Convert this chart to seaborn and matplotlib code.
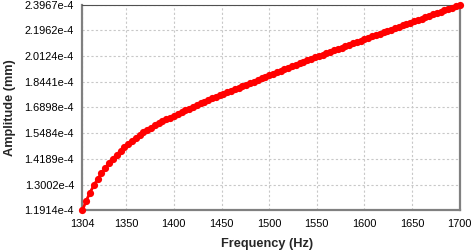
import matplotlib
matplotlib.use("Agg")
import matplotlib.pyplot as plt
import seaborn as sns
import pandas as pd

# Data (frequency in Hz, amplitude in mm)
frequency = list(range(1304, 1701, 4))
amplitude = [
    1.1914e-4, 1.2306e-4, 1.2654e-4, 1.2968e-4, 1.3254e-4, 1.3511e-4, 1.3761e-4, 1.3992e-4,
    1.4201e-4, 1.4389e-4, 1.4578e-4, 1.4758e-4, 1.4926e-4, 1.5084e-4, 1.5243e-4, 1.5390e-4,
    1.5525e-4, 1.5647e-4, 1.5771e-4, 1.5895e-4, 1.6007e-4, 1.6119e-4, 1.6232e-4, 1.6332e-4,
    1.6432e-4, 1.6533e-4, 1.6634e-4, 1.6736e-4, 1.6839e-4, 1.6942e-4, 1.7031e-4, 1.7136e-4,
    1.7226e-4, 1.7316e-4, 1.7423e-4, 1.7514e-4, 1.7606e-4, 1.7699e-4, 1.7792e-4, 1.7885e-4,
    1.7980e-4, 1.8074e-4, 1.8169e-4, 1.8264e-4, 1.8360e-4, 1.8457e-4, 1.8554e-4, 1.8652e-4,
    1.8750e-4, 1.8848e-4, 1.8947e-4, 1.9047e-4, 1.9147e-4, 1.9248e-4, 1.9332e-4, 1.9433e-4,
    1.9535e-4, 1.9638e-4, 1.9724e-4, 1.9828e-4, 1.9932e-4, 2.0037e-4, 2.0125e-4, 2.0230e-4,
    2.0319e-4, 2.0426e-4, 2.0515e-4, 2.0623e-4, 2.0713e-4, 2.0822e-4, 2.0913e-4, 2.1023e-4,
    2.1115e-4, 2.1207e-4, 2.1319e-4, 2.1412e-4, 2.1525e-4, 2.1619e-4, 2.1714e-4, 2.1828e-4,
    2.1923e-4, 2.2019e-4, 2.2135e-4, 2.2232e-4, 2.2349e-4, 2.2447e-4, 2.2545e-4, 2.2664e-4,
    2.2763e-4, 2.2863e-4, 2.2983e-4, 2.3083e-4, 2.3184e-4, 2.3306e-4, 2.3408e-4, 2.3511e-4,
    2.3634e-4, 2.3738e-4, 2.3863e-4, 2.3967e-4,
]
x_ticks = [1304, 1350, 1400, 1450, 1500, 1550, 1600, 1650, 1700]
y_ticks = [1.1914e-4, 1.3002e-4, 1.4189e-4, 1.5484e-4, 1.6898e-4,
           1.8441e-4, 2.0124e-4, 2.1962e-4, 2.3967e-4]
y_tick_labels = ["1.1914e-4", "1.3002e-4", "1.4189e-4", "1.5484e-4", "1.6898e-4",
                 "1.8441e-4", "2.0124e-4", "2.1962e-4", "2.3967e-4"]

sns.set_style("white")
plt.rcParams["font.family"] = ["Liberation Sans", "DejaVu Sans"]

df = pd.DataFrame({"Frequency": frequency, "Amplitude": amplitude})

fig = plt.figure(figsize=(4.72, 2.52), dpi=100)
ax = fig.add_axes([0.1746, 0.1655, 0.7994, 0.8159])

sns.lineplot(data=df, x="Frequency", y="Amplitude", ax=ax, color="#ff0000",
             linewidth=2.0, marker="o", markersize=5.2, markeredgewidth=0,
             markerfacecolor="#ff0000", zorder=5, clip_on=False)

ax.set_yscale("log")
ax.set_xlim(1304, 1700)
ax.set_ylim(y_ticks[0], y_ticks[-1])
ax.set_xticks(x_ticks)
ax.set_xticklabels([str(v) for v in x_ticks])
ax.set_yticks(y_ticks)
ax.set_yticklabels(y_tick_labels)
ax.yaxis.set_minor_locator(matplotlib.ticker.NullLocator())

ax.tick_params(axis="both", length=0, labelsize=7.9, colors="black")
ax.tick_params(axis="x", pad=6)
ax.tick_params(axis="y", pad=6)

ax.grid(True, color="#c8c8c8", linestyle=(0, (2, 2)), linewidth=0.8)

for side in ["left", "bottom", "right"]:
    ax.spines[side].set_color("#808080")
    ax.spines[side].set_linewidth(1.6)
ax.spines["top"].set_color("#505050")
ax.spines["top"].set_linewidth(0.8)

ax.set_xlabel("Frequency (Hz)", fontsize=9.2, fontweight="bold")
ax.set_ylabel("Amplitude (mm)", fontsize=9.2, fontweight="bold")
ax.xaxis.set_label_coords(0.49, -0.135)
ax.yaxis.set_label_coords(-0.175, 0.5)

fig.savefig("out.png", dpi=100)
